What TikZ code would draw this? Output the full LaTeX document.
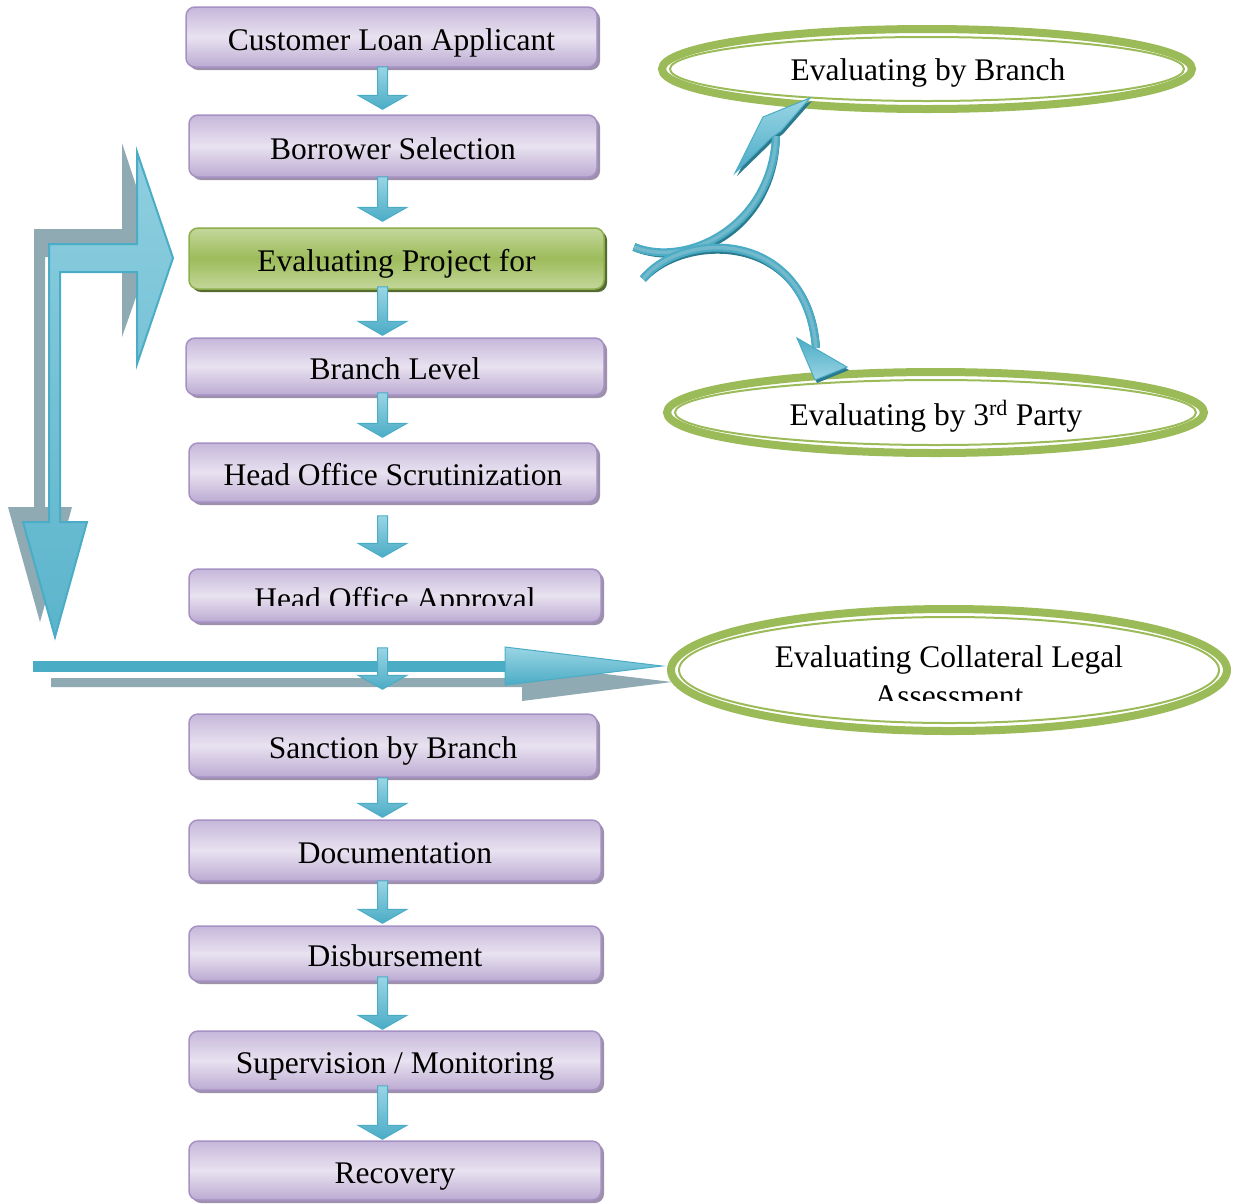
\documentclass[tikz,border=0pt]{standalone}
\usepackage{fontspec}
\setmainfont{Liberation Serif}
\usetikzlibrary{shapes.geometric,shadows,calc}

\definecolor{pbord}{HTML}{A591C3}
\definecolor{ptop}{HTML}{C6B7DA}
\definecolor{pmid}{HTML}{E8E2F0}
\definecolor{pbot}{HTML}{BCAAD2}
\definecolor{pshadow}{HTML}{9C90AA}
\definecolor{gtop}{HTML}{C3D79B}
\definecolor{gmid}{HTML}{9DBC5B}
\definecolor{gbord}{HTML}{8CAE4C}
\definecolor{gshadow}{HTML}{556B2F}
\definecolor{egreen}{HTML}{9BBB59}
\definecolor{ablue}{HTML}{4BACC6}
\definecolor{alight}{HTML}{9AD5E4}
\definecolor{ainner}{HTML}{74B9CB}
\definecolor{adark}{HTML}{2B7A8E}
\definecolor{agray}{HTML}{8FAAB2}

\newcommand\bigfont{\fontsize{31.5}{36}\selectfont}

\tikzset{
  boxbase/.style={rectangle, rounded corners=9pt, line width=1.5pt, inner sep=0pt,
    font=\bigfont, text height=26pt, text depth=0pt},
  procbox/.style={boxbase, draw=pbord, top color=ptop, bottom color=pbot, middle color=pmid,
    drop shadow={shadow xshift=3pt, shadow yshift=-3pt, opacity=1, fill=pshadow}},
  greenbox/.style={boxbase, draw=gbord, top color=gtop, bottom color=gtop, middle color=gmid,
    drop shadow={shadow xshift=3pt, shadow yshift=-3pt, opacity=1, fill=gshadow}},
  evalell/.style={ellipse, draw=egreen, line width=8pt, inner sep=0pt},
  innerell/.style={draw=egreen, line width=2pt},
  arrowfill/.style={draw=ablue, line width=1pt, top color=alight, bottom color=ablue},
  bigarrow/.style={draw=ablue, line width=2pt, top color=alight!85!ablue, bottom color=ablue!80!alight},
  evaltext/.style={font=\bigfont, anchor=base},
}

\newcommand\DArr[4]{%
  \path[arrowfill] let \p1=(#1.south), \p2=(#2.north) in
    (377.5pt,\y1-#3) -- (387.5pt,\y1-#3) -- (387.5pt,\y2+#4+14pt) -- (407pt,\y2+#4+14pt)
    -- (382.5pt,\y2+#4) -- (358pt,\y2+#4+14pt) -- (377.5pt,\y2+#4+14pt) -- cycle;}

\begin{document}
\begin{tikzpicture}[x=1pt,y=-1pt]
\useasboundingbox (0,0) rectangle (1238,1203);

% ---------- big L arrow (shadow + blue) ----------
\begin{scope}[shift={(-15,-15)}]
  \fill[agray] (55,637) -- (87,522) -- (60,522) -- (60,272) -- (137,272) -- (137,352)
    -- (170,258) -- (137,158) -- (137,244) -- (49,244) -- (49,522) -- (23,522) -- cycle;
\end{scope}
\path[bigarrow] (55,637) -- (87,522) -- (60,522) -- (60,272) -- (137,272) -- (137,364)
  -- (173,258) -- (137,152) -- (137,244) -- (49,244) -- (49,522) -- (23,522) -- cycle;

% ---------- boxes ----------
\node[procbox, minimum width=411pt, minimum height=60pt] (b1) at (391.5,37) {Customer Loan Applicant};
\node[procbox, minimum width=408pt, minimum height=62pt] (b2) at (393,146) {Borrower Selection};
\node[greenbox, minimum width=415pt, minimum height=61pt] (b3) at (396.5,258.5) {Evaluating Project for};
\node[procbox, minimum width=418pt, minimum height=57pt] (b4) at (395,366.5) {Branch Level};
\node[procbox, minimum width=408pt, minimum height=59pt] (b5) at (393,472.5) {Head Office Scrutinization};
\node[procbox, minimum width=412pt, minimum height=53pt] (b6) at (395,595.5) {};
\begin{scope}
  \clip (180,560) rectangle (620,605);
  \node[evaltext] (t6) at (395,609) {Head Office Approval};
\end{scope}
\node[procbox, minimum width=408pt, minimum height=63pt] (b7) at (393,745.5) {Sanction by Branch};
\node[procbox, minimum width=412pt, minimum height=61pt] (b8) at (395,850.5) {Documentation};
\node[procbox, minimum width=412pt, minimum height=55pt] (b9) at (395,953.5) {Disbursement};
\node[procbox, minimum width=412pt, minimum height=59pt] (b10) at (395,1060.5) {Supervision / Monitoring};
\node[procbox, minimum width=412pt, minimum height=59pt] (b11) at (395,1170.5) {Recovery};

% ---------- ellipses ----------
\node[evalell, minimum width=530pt, minimum height=80pt] (e1) at (927,69) {};
\draw[innerell] (e1.center) ellipse [x radius=257, y radius=32];
\node[evaltext] (te1) at (928,80) {Evaluating by Branch};

\node[evalell, minimum width=537pt, minimum height=81pt] (e2) at (935.5,412.5) {};
\draw[innerell] (e2.center) ellipse [x radius=260.5, y radius=32.5];
\node[evaltext] (te2) at (936,425) {Evaluating by 3\textsuperscript{rd} Party};

\node[evalell, minimum width=556pt, minimum height=122pt] (e3) at (949,670) {};
\draw[innerell] (e3.center) ellipse [x radius=270, y radius=53];
\begin{scope}
  \clip (660,600) rectangle (1240,700);
  \node[evaltext] (te3a) at (949,667) {Evaluating Collateral Legal};
  \node[evaltext] (te3b) at (949,706) {Assessment};
\end{scope}

% ---------- horizontal arrow into e3 ----------
\coordinate (hstart) at (33,661);
\coordinate (htip) at ($(e3.west)+(-5,-4)$);
\fill[agray] (51,678) -- (522,678) -- (522,664) -- ($(e3.west)+(5,12)$) -- (522,701) -- (522,687) -- (51,687) -- cycle;
\fill[ablue] (hstart) rectangle (507,672);
\path[draw=ablue, line width=1pt, top color=alight, bottom color=ablue]
  (505,647) -- (htip) -- (505,685) -- cycle;

% ---------- small down arrows ----------
\DArr{b1}{b2}{-1pt}{5pt}
\DArr{b2}{b3}{-1pt}{6pt}
\DArr{b3}{b4}{-3pt}{2pt}
\DArr{b4}{b5}{-3pt}{5pt}
\DArr{b5}{b6}{13pt}{11pt}
\DArr{b6}{b7}{25pt}{24pt}
\DArr{b7}{b8}{0pt}{2pt}
\DArr{b8}{b9}{-1pt}{2pt}
\DArr{b9}{b10}{-5pt}{1pt}
\DArr{b10}{b11}{-5pt}{1pt}

% ---------- curved split arrows ----------
\coordinate (t1) at (634,247);
\coordinate (t2) at (643,279);
\coordinate (h1) at (776,136);
\coordinate (h2) at (816,348);
\begin{scope}[shift={(2,3)}]
  \draw[adark, line width=8pt] (t1) .. controls (688,268) and (772,226) .. (h1);
  \draw[adark, line width=8pt] (t2) .. controls (682,230) and (806,228) .. (h2);
  \fill[adark] (810,98) -- (763,117) -- (735,173) -- (771,138) -- (781,131) -- cycle;
  \fill[adark] (797,338) -- (847,367) -- (815,380) -- cycle;
\end{scope}
\draw[ablue, line width=8pt] (t1) .. controls (688,268) and (772,226) .. (h1);
\draw[ainner, line width=3.5pt] (t1) .. controls (688,268) and (772,226) .. (h1);
\draw[ablue, line width=8pt] (t2) .. controls (682,230) and (806,228) .. (h2);
\draw[ainner, line width=3.5pt] (t2) .. controls (682,230) and (806,228) .. (h2);
\path[draw=ablue, line width=1pt, top color=alight, bottom color=ablue]
  (810,98) -- (763,117) -- (735,173) -- (771,138) -- (781,131) -- cycle;
\path[draw=ablue, line width=1pt, top color=ablue, bottom color=alight]
  (797,338) -- (847,367) -- (815,380) -- cycle;
\end{tikzpicture}
\end{document}
